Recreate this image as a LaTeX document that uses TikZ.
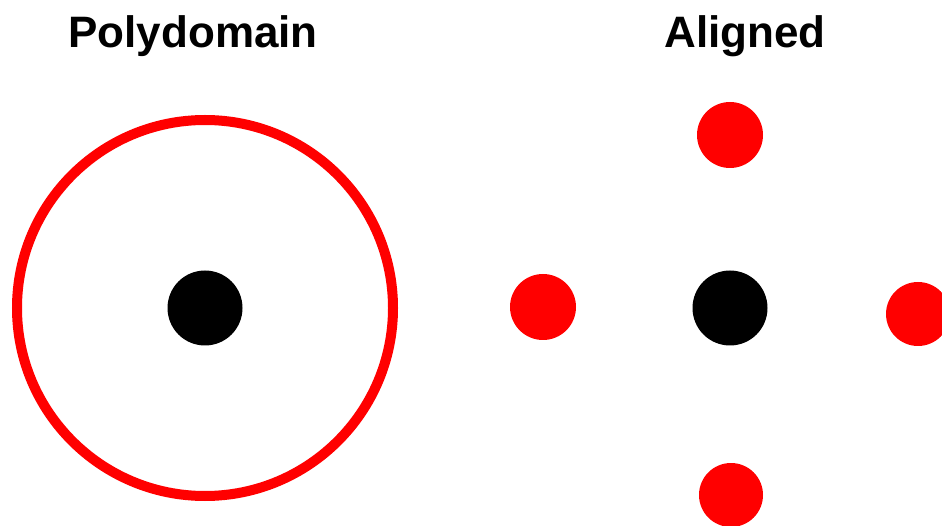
\documentclass[tikz,border=0pt]{standalone}
\usepackage{fontspec}
\setmainfont{Liberation Sans}
\begin{document}
\begin{tikzpicture}[x=1pt,y=-1pt,
  reddot/.style={circle,fill=red,draw=none,minimum size=66pt,inner sep=0pt},
  blackdot/.style={circle,fill=black,draw=none,minimum size=75pt,inner sep=0pt},
  ring/.style={circle,draw=red,line width=10pt,minimum size=376pt,inner sep=0pt},
  title/.style={font=\fontsize{44}{50}\selectfont\bfseries,anchor=base,inner sep=0pt}]
\useasboundingbox (0,0) rectangle (942,526);
\clip (0,0) rectangle (942,526);
\node[title] (t1) at (193,48) {Polydomain};
\node[title] (t2) at (745,48) {Aligned};
\node[ring] (ring) at (205,308) {};
\node[blackdot] (c1) at (205,308) {};
\node[blackdot] (c2) at (730,308) {};
\node[reddot] (top) at (730,135) {};
\node[reddot] (left) at (543,307) {};
\node[reddot,minimum size=64pt] (right) at (918,314) {};
\node[reddot,minimum size=64pt] (bottom) at (731,495) {};
\end{tikzpicture}
\end{document}
